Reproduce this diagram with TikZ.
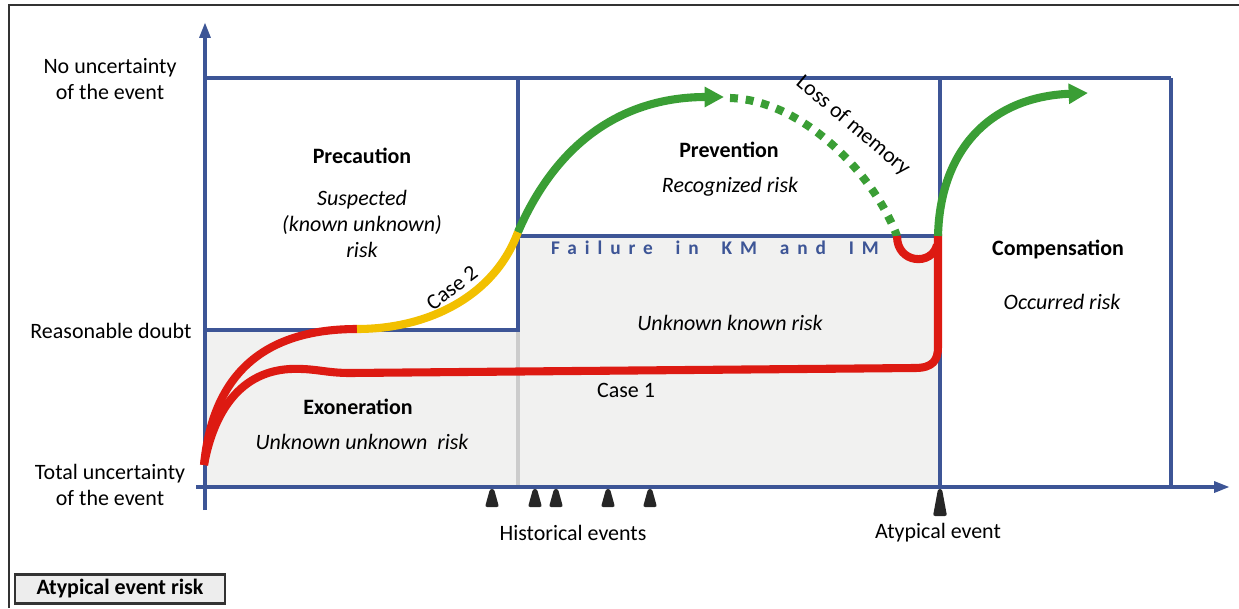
\documentclass[tikz,border=0pt]{standalone}
\usepackage{fontspec}
\setmainfont{Carlito}
\usetikzlibrary{arrows.meta}
\definecolor{axisblue}{HTML}{3D5596}
\definecolor{cgreen}{HTML}{3A9E35}
\definecolor{cred}{HTML}{DD1A12}
\definecolor{cyellow}{HTML}{F2C000}
\definecolor{bgshade}{HTML}{F1F1F0}
\definecolor{framegray}{HTML}{333333}
\tikzset{
  blueline/.style={draw=axisblue, line width=2.3pt},
  curve/.style={line width=4.6pt},
  greenarrow/.style={curve, draw=cgreen, -{Triangle[length=11pt,width=11pt]}},
  lbl/.style={font=\fontsize{12.5}{15}\selectfont, align=center, inner sep=0pt},
  title/.style={lbl, font=\fontsize{12.5}{15}\selectfont\bfseries},
  risk/.style={lbl, font=\fontsize{12.5}{15}\selectfont\itshape},
  marker/.style={fill=black!85, rounded corners=1.2pt},
}
\begin{document}
\begin{tikzpicture}[x=0.02cm, y=-0.02cm]
\useasboundingbox (0,0) rectangle (1239,608);
% outer frame
\draw[framegray, line width=1.3pt] (9,608) -- (9,5) -- (1239,5);
% shaded areas
\fill[bgshade] (205,330) rectangle (518,487);
\fill[bgshade] (518,236) rectangle (940,487);
\draw[black!20, line width=2pt] (518,330) -- (518,487);
% boxes
\draw[blueline] (205,78) -- (1171,78);
\draw[blueline] (205,330) -- (518,330) -- (518,78);
\draw[blueline] (518,236) -- (940,236);
\draw[blueline] (940,78) -- (940,487);
\draw[blueline] (1171,78) -- (1171,487);
% axes
\coordinate (yb) at (205,510);
\coordinate (yt) at (205,22);
\coordinate (xl) at (196,487);
\coordinate (xr) at (1230,487);
\draw[blueline, -{Triangle[length=9pt,width=6pt]}] (yb) -- (yt);
\draw[blueline, -{Triangle[length=9pt,width=6pt]}] (xl) -- (xr);
% curve points
\coordinate (s) at (204,465);
\coordinate (rd) at (357,329);
\coordinate (k2) at (518,232);
\coordinate (g1) at (724,97);
\coordinate (d0) at (730,98);
\coordinate (d1) at (897,236);
\coordinate (u1) at (937,245);
\coordinate (v1) at (938,347);
\coordinate (h1) at (915,368);
\coordinate (h2) at (350,373);
\coordinate (h3) at (290,369);
\coordinate (g2) at (1088,93);
% case 1
\draw[curve, cred, line join=round] (s) .. controls (212,420) and (235,372) .. (h3)
  .. controls (315,368) and (325,373) .. (h2) -- (h1)
  .. controls (933,368) and (938,360) .. (v1) -- (938,234);
% case 2 red
\draw[curve, cred] (s) .. controls (212,383) and (255,329) .. (rd);
\draw[curve, cyellow] (rd) .. controls (430,329) and (495,295) .. (k2);
\draw[greenarrow] (k2) .. controls (560,135) and (630,97) .. (g1);
\draw[curve, cgreen, dash pattern=on 4.5pt off 4.5pt] (d0) .. controls (800,100) and (872,170) .. (d1);
\draw[curve, cred] (d1) .. controls (897,264) and (932,266) .. (u1);
\draw[greenarrow] (938,236) .. controls (940,150) and (990,97) .. (g2);
% axis labels
\node[lbl] (nu) at (110,79) {No uncertainty\\of the event};
\node[lbl] (rdl) at (111,331) {Reasonable doubt};
\node[lbl] (tu) at (110,485) {Total uncertainty\\of the event};
% region labels
\node[title] (prec) at (362,156) {Precaution};
\node[risk] (precr) at (362,224) {Suspected\\(known unknown)\\risk};
\node[lbl, rotate=37] (c2) at (452,288) {Case 2};
\node[title] (prev) at (729,150) {Prevention};
\node[risk] (prevr) at (730,187) {Recognized risk};
\node[lbl, rotate=-40] (lom) at (853,126) {Loss of memory};
\node[lbl, font=\fontsize{11}{13}\selectfont\bfseries\addfontfeature{LetterSpace=41}, text=axisblue] (fail) at (715,248) {Failure\hspace{6pt} in\hspace{6pt} KM\hspace{6pt} and\hspace{6pt} IM};
\node[risk] (ukr) at (730,323) {Unknown known risk};
\node[title] (comp) at (1058,250) {Compensation};
\node[risk] (occ) at (1062,302) {Occurred risk};
\node[title] (exo) at (358,407) {Exoneration};
\node[risk] (uur) at (362,442) {Unknown unknown\ \ risk};
\node[lbl] (c1) at (626,390) {Case 1};
\node[lbl] (hist) at (573,533) {Historical events};
\node[lbl] (atyp) at (938,533) {Atypical event};
\node[lbl, font=\fontsize{12.5}{15}\selectfont\bfseries, draw=framegray, line width=1.3pt, fill=black!7, minimum width=4.2cm, minimum height=0.58cm] (box) at (120,589) {Atypical event risk};
% event markers
\foreach \m in {492,535,556,608,650}{
  \fill[marker] (\m-7,507) -- (\m-2,489) -- (\m+2,489) -- (\m+7,507) -- cycle;
}
\fill[marker] (940-7,516) -- (940-2,489) -- (940+2,489) -- (940+7,516) -- cycle;
\end{tikzpicture}
\end{document}
